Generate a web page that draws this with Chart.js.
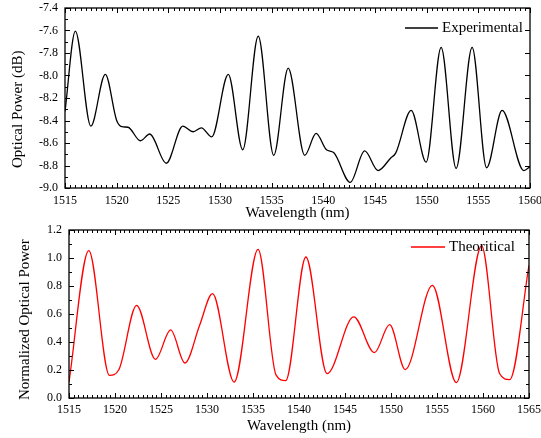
<!DOCTYPE html>
<html>
<head>
<meta charset="utf-8">
<script src="https://cdn.jsdelivr.net/npm/chart.js"></script>
<style>
    html, body { margin: 0; padding: 0; background: #fff; }
    .panel { position: absolute; left: 0; }
    #topPanel { top: 0; }
    #bottomPanel { top: 222px; }
</style>
</head>
<body>
<div class="panel" id="topPanel"><canvas id="expChart" width="541" height="222"></canvas></div>
<div class="panel" id="bottomPanel"><canvas id="theoChart" width="541" height="216"></canvas></div>
<script>
    const expWavelength = [1515.0, 1516.0, 1517.5, 1518.9, 1520.0, 1520.5, 1521.1, 1522.3, 1523.2, 1524.8,
        1526.4, 1527.4, 1528.2, 1529.2, 1530.8, 1532.2, 1533.7, 1535.2, 1536.6, 1538.2,
        1539.3, 1540.3, 1541.0, 1542.6, 1544.0, 1545.3, 1546.5, 1547.0, 1548.5, 1549.95,
        1551.4, 1552.85, 1554.4, 1555.8, 1557.3, 1559.4, 1560.0];
    const expPower = [-8.32, -7.605, -8.45, -7.99, -8.40, -8.455, -8.46, -8.58, -8.52, -8.78,
        -8.45, -8.50, -8.465, -8.545, -7.99, -8.66, -7.65, -8.71, -7.935, -8.71,
        -8.515, -8.66, -8.685, -8.95, -8.67, -8.845, -8.735, -8.69, -8.31, -8.77,
        -7.75, -8.825, -7.75, -8.82, -8.31, -8.845, -8.81];

    // Theoretical spectrum
    const theoWavelength = [1515.0, 1517.15, 1519.4, 1520.4, 1522.35, 1524.4, 1526.05, 1527.6, 1529.2, 1530.6,
        1532.95, 1535.55, 1537.5, 1538.55, 1540.75, 1543.05, 1545.95, 1548.2, 1549.85, 1551.55,
        1554.5, 1557.1, 1559.85, 1561.8, 1562.9, 1565.0];
    const theoPower = [0.114, 1.053, 0.162, 0.20, 0.662, 0.276, 0.486, 0.25, 0.52, 0.746,
        0.114, 1.062, 0.165, 0.124, 1.007, 0.174, 0.58, 0.324, 0.524, 0.203,
        0.805, 0.11, 1.086, 0.175, 0.131, 0.948];

    // Axis ranges / tick steps
    const expXRange = [1515, 1560];
    const expYRange = [-9.0, -7.4];
    const theoXRange = [1515, 1565];
    const theoYRange = [0.0, 1.2];
    const xTickStep = 5;
    const yTickStep = 0.2;

    const serif = '"Liberation Serif", "Times New Roman", serif';

    // Box frame with inward major/minor ticks on all four sides
    const frameTicks = {
        id: 'frameTicks',
        afterDraw(chart, args, opts) {
            const { ctx, chartArea: a, scales: { x, y } } = chart;
            ctx.save();
            ctx.strokeStyle = '#000';
            ctx.lineWidth = 1.3;
            ctx.strokeRect(a.left, a.top, a.right - a.left, a.bottom - a.top);
            ctx.lineWidth = 1;
            ctx.beginPath();
            const nx = Math.round((x.max - x.min) / opts.xMinor);
            for (let i = 0; i <= nx; i++) {
                const px = Math.round(x.getPixelForValue(x.min + i * opts.xMinor)) + 0.5;
                const len = i % opts.xEvery === 0 ? 5 : 3;
                ctx.moveTo(px, a.bottom); ctx.lineTo(px, a.bottom - len);
                ctx.moveTo(px, a.top); ctx.lineTo(px, a.top + len);
            }
            const ny = Math.round((y.max - y.min) / opts.yMinor);
            for (let i = 0; i <= ny; i++) {
                const py = Math.round(y.getPixelForValue(y.min + i * opts.yMinor)) + 0.5;
                const major = i % opts.yEvery === 0;
                const len = major ? 5 : 3;
                ctx.moveTo(a.left, py); ctx.lineTo(a.left + len, py);
                if (major || opts.rightMinor) {
                    ctx.moveTo(a.right, py); ctx.lineTo(a.right - len, py);
                }
            }
            ctx.stroke();
            ctx.restore();
        }
    };

    // Small legend inside the plot, top right
    const insideLegend = {
        id: 'insideLegend',
        afterDraw(chart, args, opts) {
            const { ctx, chartArea: a } = chart;
            const ds = chart.data.datasets[0];
            const y = a.top + opts.dy;
            ctx.save();
            ctx.strokeStyle = ds.borderColor;
            ctx.lineWidth = 1.3;
            ctx.beginPath();
            ctx.moveTo(a.right - opts.lineStart, y);
            ctx.lineTo(a.right - opts.lineEnd, y);
            ctx.stroke();
            ctx.fillStyle = '#000';
            ctx.font = '15px ' + serif;
            ctx.textAlign = 'left';
            ctx.textBaseline = 'middle';
            ctx.fillText(ds.label, a.right - opts.textStart, y);
            ctx.restore();
        }
    };

    function makeChart(id, cfg) {
        const points = cfg.xs.map((v, i) => ({ x: v, y: cfg.ys[i] }));
        return new Chart(document.getElementById(id), {
            type: 'line',
            data: {
                datasets: [{
                    label: cfg.label,
                    data: points,
                    borderColor: cfg.color,
                    borderWidth: 1.3,
                    pointRadius: 0,
                    cubicInterpolationMode: 'monotone',
                    fill: false
                }]
            },
            options: {
                responsive: false,
                animation: false,
                layout: { padding: cfg.padding },
                plugins: {
                    legend: { display: false },
                    tooltip: { enabled: false },
                    frameTicks: cfg.ticks,
                    insideLegend: cfg.legend
                },
                scales: {
                    x: {
                        type: 'linear',
                        min: cfg.xRange[0],
                        max: cfg.xRange[1],
                        grid: { display: false, drawTicks: false },
                        border: { display: false },
                        ticks: {
                            stepSize: xTickStep,
                            color: '#000',
                            padding: cfg.xLabelPad,
                            maxRotation: 0,
                            font: { family: serif, size: 12 },
                            callback: v => v
                        },
                        title: {
                            display: true,
                            text: 'Wavelength (nm)',
                            color: '#000',
                            font: { family: serif, size: 15 },
                            padding: { top: 0, bottom: cfg.xTitlePad }
                        },
                        afterFit: s => {
                            s.height = cfg.xHeight;
                            s.paddingLeft = 0;
                            s.paddingRight = 0;
                        }
                    },
                    y: {
                        min: cfg.yRange[0],
                        max: cfg.yRange[1],
                        grid: { display: false, drawTicks: false },
                        border: { display: false },
                        ticks: {
                            stepSize: yTickStep,
                            color: '#000',
                            padding: 7,
                            font: { family: serif, size: 12 },
                            callback: v => v.toFixed(1)
                        },
                        title: {
                            display: true,
                            text: cfg.yTitle,
                            color: '#000',
                            font: { family: serif, size: 15 },
                            padding: { top: cfg.yTitlePad, bottom: 0 }
                        },
                        afterFit: s => {
                            s.width = cfg.yWidth;
                            s.paddingTop = 0;
                            s.paddingBottom = 0;
                        }
                    }
                }
            },
            plugins: [frameTicks, insideLegend]
        });
    }

    document.addEventListener('DOMContentLoaded', function () {
        makeChart('expChart', {
            xs: expWavelength, ys: expPower,
            label: 'Experimental', color: '#000000',
            xRange: expXRange, yRange: expYRange,
            yTitle: 'Optical Power (dB)      ',
            padding: { top: 8, right: 11, left: 0, bottom: 0 },
            yWidth: 65, xHeight: 34,
            xLabelPad: 6, xTitlePad: 0, yTitlePad: 9,
            ticks: { xMinor: 0.5, xEvery: 10, yMinor: 0.1, yEvery: 2, rightMinor: false },
            legend: { dy: 20, lineStart: 125, lineEnd: 92, textStart: 88 }
        });

        makeChart('theoChart', {
            xs: theoWavelength, ys: theoPower,
            label: 'Theoritical', color: '#ff0000',
            xRange: theoXRange, yRange: theoYRange,
            yTitle: 'Normalized Optical Power   ',
            padding: { top: 8, right: 12, left: 0, bottom: 0 },
            yWidth: 69, xHeight: 40,
            xLabelPad: 5, xTitlePad: 3, yTitlePad: 16,
            ticks: { xMinor: 0.5, xEvery: 10, yMinor: 0.1, yEvery: 2, rightMinor: true },
            legend: { dy: 17, lineStart: 118, lineEnd: 84, textStart: 80 }
        });
    });
</script>
</body>
</html>
